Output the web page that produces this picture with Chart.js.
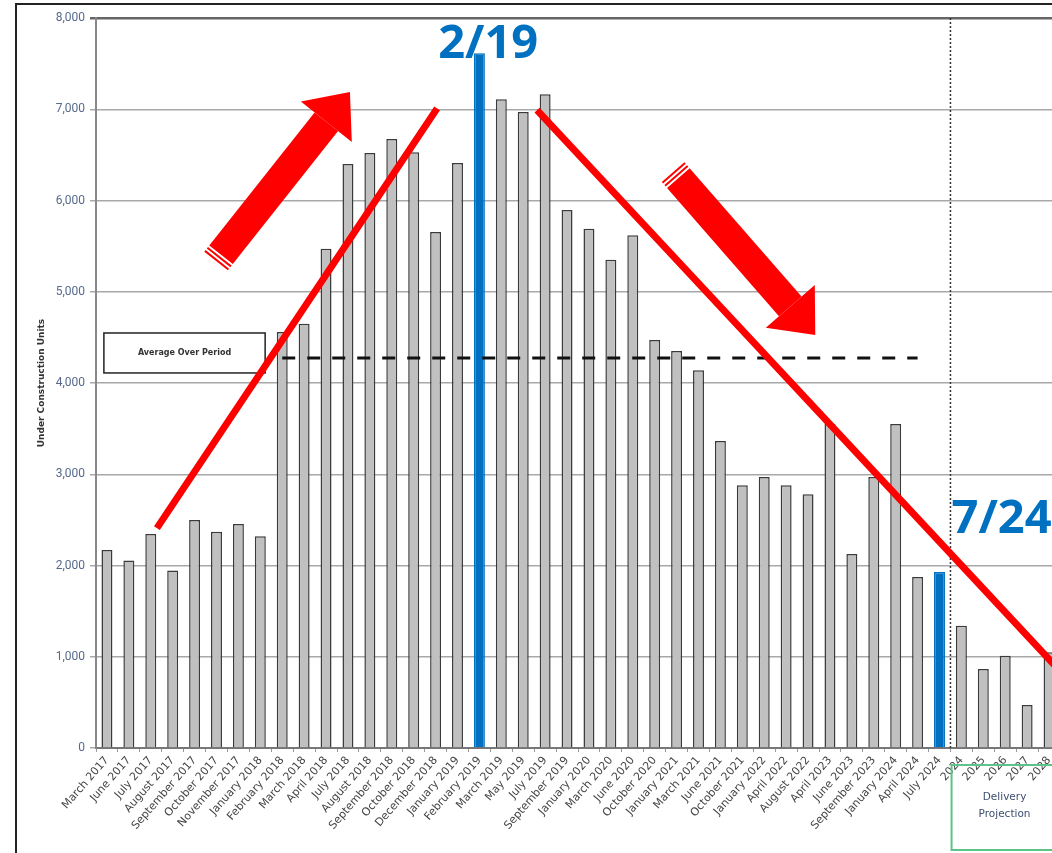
<!DOCTYPE html>
<html>
<head>
<meta charset="utf-8">
<title>Under Construction Units</title>
<script src="https://cdn.jsdelivr.net/npm/chart.js@4.4.1/dist/chart.umd.min.js"></script>
<style>
  html, body { margin: 0; padding: 0; background: #fff; overflow: hidden; }
  #wrap { position: relative; width: 1052px; height: 853px; overflow: hidden; }
  #frame { position: absolute; left: 15px; top: 3px; width: 2000px; height: 2000px;
           border-left: 2px solid #222; border-top: 2px solid #222; }
  canvas { position: absolute; left: 0; top: 0; }
</style>
</head>
<body>
<div id="wrap">
  <div id="frame"></div>
  <canvas id="chart" width="1062" height="853"></canvas>
</div>
<script>
// categories as printed under the bars
const labels = [
  'March 2017', 'June 2017', 'July 2017', 'August 2017', 'September 2017', 'October 2017',
  'November 2017', 'January 2018', 'February 2018', 'March 2018', 'April 2018', 'July 2018',
  'August 2018', 'September 2018', 'October 2018', 'December 2018', 'January 2019', 'February 2019',
  'March 2019', 'May 2019', 'July 2019', 'September 2019', 'January 2020', 'March 2020',
  'June 2020', 'October 2020', 'January 2021', 'March 2021', 'June 2021', 'October 2021',
  'January 2022', 'April 2022', 'August 2022', 'April 2023', 'June 2023', 'September 2023',
  'January 2024', 'April 2024', 'July 2024', '2024', '2025', '2026', '2027', '2028'
];

// under construction units
const units = [
  2170, 2055, 2345, 1945, 2500, 2370, 2455, 2320, 4560, 4650, 5470, 6400,
  6520, 6675, 6530, 5655, 6410, 7615, 7110, 6970, 7165, 5895, 5690, 5350,
  5620, 4470, 4350, 4140, 3365, 2880, 2970, 2880, 2780, 3550, 2125, 2970,
  3550, 1875, 1930, 1340, 865, 1010, 470, 1050
];

const highlighted = ['February 2019', 'July 2024'];

// average over period line
const avgValue = 4275;
const avgFrom = 'February 2018';
const avgTo = 'April 2024';

// y axis ticks
const yMin = 0;
const yMax = 8000;
const yStep = 1000;

const avgData = labels.map((l, i) =>
  (i >= labels.indexOf(avgFrom) && i <= labels.indexOf(avgTo)) ? avgValue : null);

const RED = '#ff0000';
const BLUE = '#0070c0';

function drawArrow(ctx, x0, y0, x1, y1, shaftW, headW, headL) {
  const len = Math.hypot(x1 - x0, y1 - y0);
  ctx.save();
  ctx.translate(x0, y0);
  ctx.rotate(Math.atan2(y1 - y0, x1 - x0));
  ctx.fillStyle = RED;
  // striped tail
  ctx.fillRect(0, -shaftW / 2, 2, shaftW);
  ctx.fillRect(4, -shaftW / 2, 2, shaftW);
  ctx.fillRect(8, -shaftW / 2, len - headL - 8, shaftW);
  ctx.beginPath();
  ctx.moveTo(len - headL, -headW / 2);
  ctx.lineTo(len, 0);
  ctx.lineTo(len - headL, headW / 2);
  ctx.closePath();
  ctx.fill();
  ctx.restore();
}

const overlay = {
  id: 'overlay',
  afterDatasetsDraw(chart) {
    const { ctx, chartArea, scales } = chart;
    const px = v => scales.x.getPixelForValue(v);
    const py = v => scales.y.getPixelForValue(v);
    ctx.save();

    // divider before the projection years
    ctx.strokeStyle = '#333';
    ctx.lineWidth = 1.5;
    ctx.setLineDash([2, 2]);
    ctx.beginPath();
    ctx.moveTo(px(38.5), chartArea.top);
    ctx.lineTo(px(38.5), chartArea.bottom);
    ctx.stroke();
    ctx.setLineDash([]);

    // average label box
    const bx0 = px(-0.14), bx1 = px(7.22), by0 = py(4548), by1 = py(4110);
    ctx.fillStyle = '#fff';
    ctx.fillRect(bx0, by0, bx1 - bx0, by1 - by0);
    ctx.strokeStyle = '#222';
    ctx.lineWidth = 1.5;
    ctx.strokeRect(bx0, by0, bx1 - bx0, by1 - by0);
    ctx.fillStyle = '#333';
    ctx.font = 'bold 8px "DejaVu Sans"';
    ctx.textAlign = 'center';
    ctx.textBaseline = 'middle';
    ctx.fillText('Average Over Period', (bx0 + bx1) / 2, (by0 + by1) / 2);

    // trend lines
    ctx.strokeStyle = RED;
    ctx.lineWidth = 7;
    ctx.lineCap = 'butt';
    ctx.beginPath();
    ctx.moveTo(px(2.28), py(2410));
    ctx.lineTo(px(15.07), py(7010));
    ctx.moveTo(px(19.63), py(6990));
    ctx.lineTo(px(43.4), py(870));
    ctx.stroke();

    // arrows
    drawArrow(ctx, px(4.98), py(5337), px(11.09), py(7189), 30, 65, 38);
    drawArrow(ctx, px(25.84), py(6312), px(32.33), py(4526), 30, 65, 38);

    // date callouts
    ctx.fillStyle = BLUE;
    ctx.font = 'bold 47px "Open Sans"';
    ctx.textBaseline = 'alphabetic';
    ctx.textAlign = 'center';
    ctx.fillText('2/19', px(17.4), py(7560));
    ctx.textAlign = 'left';
    ctx.fillText('7/24', px(38.55), py(2355));

    // delivery projection box under the axis
    const dx0 = px(38.55), dx1 = dx0 + 106, dy0 = chartArea.bottom + 17, dy1 = chartArea.bottom + 102;
    ctx.strokeStyle = '#5cc488';
    ctx.lineWidth = 2;
    ctx.strokeRect(dx0, dy0, dx1 - dx0, dy1 - dy0);
    ctx.fillStyle = '#3f4f70';
    ctx.font = '10.5px "DejaVu Sans"';
    ctx.textAlign = 'center';
    ctx.textBaseline = 'middle';
    ctx.fillText('Delivery', (dx0 + dx1) / 2, dy0 + 32);
    ctx.fillText('Projection', (dx0 + dx1) / 2, dy0 + 49);

    ctx.restore();
  }
};

new Chart(document.getElementById('chart'), {
  type: 'bar',
  data: {
    labels: labels,
    datasets: [
      {
        type: 'line',
        data: avgData,
        borderColor: '#111',
        borderWidth: 3,
        borderDash: [13, 12],
        pointRadius: 0,
        spanGaps: false,
        order: 0
      },
      {
        data: units,
        backgroundColor: labels.map(l => highlighted.includes(l) ? BLUE : '#c0c0c0'),
        borderColor: labels.map(l => highlighted.includes(l) ? BLUE : '#3a3a3a'),
        borderWidth: 1.5,
        barPercentage: 0.5,
        categoryPercentage: 1,
        order: 1
      }
    ]
  },
  options: {
    responsive: false,
    animation: false,
    layout: { padding: { top: 18, right: 2, left: 0, bottom: 0 } },
    plugins: {
      legend: { display: false },
      tooltip: { enabled: false }
    },
    scales: {
      x: {
        afterFit(scale) { scale.height = 105; },
        border: { color: '#777', width: 2 },
        grid: { drawOnChartArea: false, color: '#999', tickLength: 4 },
        ticks: {
          autoSkip: false,
          minRotation: 49,
          maxRotation: 49,
          padding: 2,
          color: '#444',
          font: { family: 'DejaVu Sans', size: 11 }
        }
      },
      y: {
        min: yMin,
        max: yMax,
        afterFit(scale) { scale.width = 96; },
        border: { color: '#888', width: 2 },
        grid: {
          color: ctx => ctx.tick && ctx.tick.value === yMax ? '#666' : '#a8a8a8',
          lineWidth: ctx => ctx.tick && ctx.tick.value === yMax ? 2.5 : 1.5,
          tickLength: 6
        },
        ticks: {
          stepSize: yStep,
          padding: 5,
          color: '#56698c',
          font: { family: 'Roboto', size: 12 },
          callback: v => v.toLocaleString('en-US')
        },
        title: {
          display: true,
          text: 'Under Construction Units',
          color: '#333',
          font: { family: 'DejaVu Sans', size: 9, weight: 'bold' },
          padding: { top: 36, bottom: 0 }
        }
      }
    }
  },
  plugins: [overlay]
});
</script>
</body>
</html>
